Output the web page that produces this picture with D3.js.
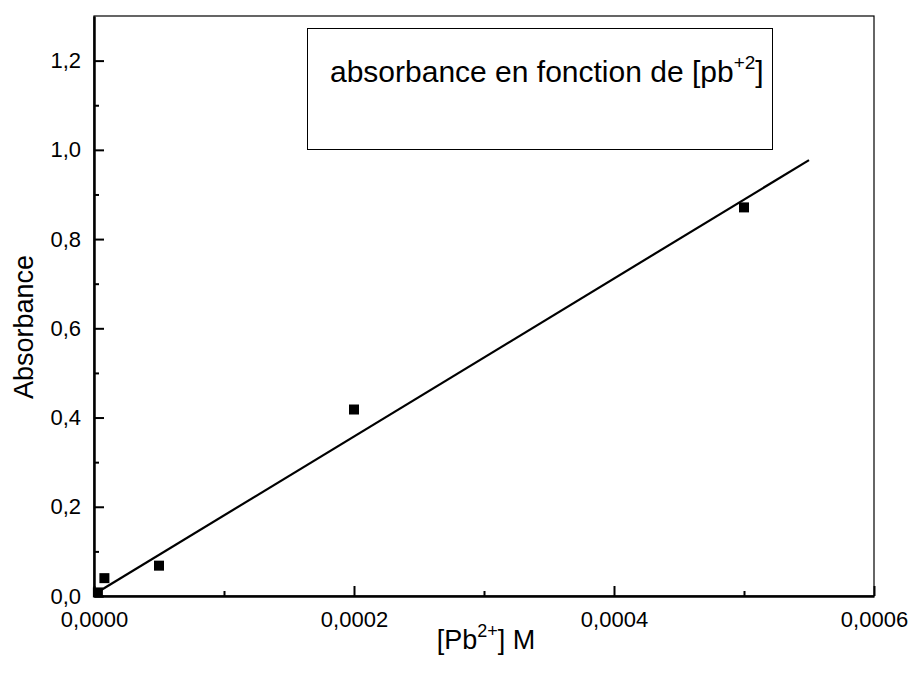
<!DOCTYPE html>
<html>
<head>
<meta charset="utf-8">
<script src="https://cdn.jsdelivr.net/npm/d3@7"></script>
<style>
  body { margin: 0; background: #fff; }
  svg { display: block; font-family: "Liberation Sans", Arial, sans-serif; }
  .axis path, .axis line { stroke: #000; }
  .axis text { font-size: 22px; fill: #000; }
</style>
</head>
<body>
<div id="chart"></div>
<script>
// data
var concentration = [0.000003, 0.000008, 0.00005, 0.0002, 0.0005];
var absorbance = [0.008, 0.04, 0.068, 0.418, 0.871];
// linear fit end points
var fitX = [0.000003, 0.00055];
var fitY = [0.009, 0.977];

var xMajor = [0, 0.0002, 0.0004, 0.0006];
var xMinor = [0.0001, 0.0003, 0.0005];
var yMajor = [0, 0.2, 0.4, 0.6, 0.8, 1.0, 1.2];
var yMinor = [0.1, 0.3, 0.5, 0.7, 0.9, 1.1];

var legendText = "absorbance en fonction de [pb";
var legendSup = "+2";

var margin = {top: 16, right: 36, bottom: 82, left: 94},
  width = 910 - margin.left - margin.right,
  height = 678 - margin.top - margin.bottom;

var fr = d3.formatLocale({decimal: ",", thousands: ".", grouping: [3], currency: ["", ""]});

var x = d3.scaleLinear().domain([0, 0.0006]).range([0, width]);
var y = d3.scaleLinear().domain([0, 1.3]).range([height, 0]);

var svg = d3.select("#chart").append("svg")
  .attr("width", 910)
  .attr("height", 678);

var g = svg.append("g")
  .attr("transform", "translate(" + margin.left + "," + margin.top + ")");

// thin frame (top and right)
g.append("rect")
  .attr("x", 0).attr("y", 0)
  .attr("width", width).attr("height", height)
  .attr("fill", "none").attr("stroke", "#000").attr("stroke-width", 1.2);

// minor ticks
g.append("g")
  .attr("class", "axis")
  .attr("transform", "translate(0," + height + ")")
  .call(d3.axisBottom(x).tickValues(xMinor).tickSize(-5).tickFormat(""))
  .call(function (s) { s.select(".domain").remove(); })
  .selectAll("line").attr("stroke-width", 2);

g.append("g")
  .attr("class", "axis")
  .call(d3.axisLeft(y).tickValues(yMinor).tickSize(-5).tickFormat(""))
  .call(function (s) { s.select(".domain").remove(); })
  .selectAll("line").attr("stroke-width", 2);

// major axes
var xAxis = g.append("g")
  .attr("class", "axis")
  .attr("transform", "translate(0," + height + ")")
  .call(d3.axisBottom(x).tickValues(xMajor).tickSizeInner(-10).tickSizeOuter(0)
    .tickPadding(15).tickFormat(fr.format(".4f")));
xAxis.select(".domain").attr("stroke-width", 2.5);
xAxis.selectAll("line").attr("stroke-width", 2);

var yAxis = g.append("g")
  .attr("class", "axis")
  .call(d3.axisLeft(y).tickValues(yMajor).tickSizeInner(-10).tickSizeOuter(0)
    .tickPadding(13).tickFormat(fr.format(".1f")));
yAxis.select(".domain").attr("stroke-width", 2.5);
yAxis.selectAll("line").attr("stroke-width", 2);
xAxis.selectAll("text").attr("font-family", "Liberation Sans, Arial, sans-serif");
yAxis.selectAll("text").attr("font-family", "Liberation Sans, Arial, sans-serif");

// fit line
var line = d3.line()
  .x(function (d) { return x(d[0]); })
  .y(function (d) { return y(d[1]); });

g.append("path")
  .datum(d3.zip(fitX, fitY))
  .attr("d", line)
  .attr("fill", "none")
  .attr("stroke", "#000")
  .attr("stroke-width", 2.2);

// points
var sq = 10;
g.selectAll(".pt")
  .data(d3.zip(concentration, absorbance))
  .enter().append("rect")
  .attr("class", "pt")
  .attr("x", function (d) { return x(d[0]) - sq / 2; })
  .attr("y", function (d) { return y(d[1]) - sq / 2; })
  .attr("width", sq)
  .attr("height", sq)
  .attr("fill", "#000");

// legend box
svg.append("rect")
  .attr("x", 307.5).attr("y", 28.5)
  .attr("width", 465).attr("height", 121)
  .attr("fill", "#fff").attr("stroke", "#000").attr("stroke-width", 1);

var lt = svg.append("text")
  .attr("x", 330).attr("y", 82)
  .attr("font-size", 30)
  .attr("fill", "#000");
lt.append("tspan").text(legendText);
lt.append("tspan").attr("font-size", 19).attr("dy", -13).text(legendSup);
lt.append("tspan").attr("dy", 13).text("]");

// axis titles
svg.append("text")
  .attr("transform", "translate(33,327) rotate(-90)")
  .attr("text-anchor", "middle")
  .attr("font-size", 27)
  .attr("fill", "#000")
  .text("Absorbance");

var xt = svg.append("text")
  .attr("x", 486).attr("y", 649)
  .attr("text-anchor", "middle")
  .attr("font-size", 27)
  .attr("fill", "#000");
xt.append("tspan").text("[Pb");
xt.append("tspan").attr("font-size", 18).attr("dy", -12).text("2+");
xt.append("tspan").attr("dy", 12).text("] M");
</script>
</body>
</html>
